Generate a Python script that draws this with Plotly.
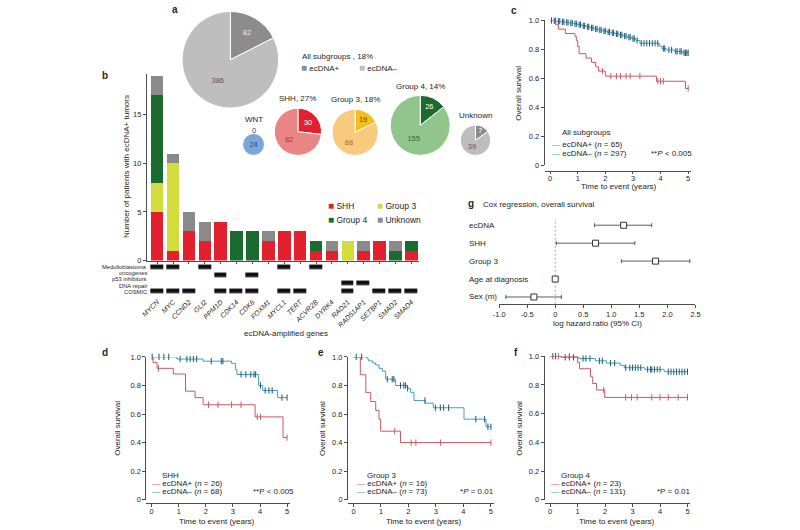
import numpy as np
import plotly.graph_objects as go

W, H = 800, 530
FONT = "Liberation Sans, Arial, Helvetica, sans-serif"
TXT = "#262626"
AXC = "#4d4d4d"


def X(px):
    return px / W


def Y(py):
    return 1 - py / H


# ---------------- data: panel a (pies) ----------------
pie_groups = ["WNT", "SHH", "Group 3", "Group 4", "Unknown"]
pie_titles = ["WNT", "SHH, 27%", "Group 3, 18%", "Group 4, 14%", "Unknown"]
pie_pos = [0, 30, 19, 26, 7]
pie_neg = [24, 82, 88, 155, 39]
all_pos = 82
all_neg = 386
all_title = "All subgroups , 18%"
status_labels = ["ecDNA+", "ecDNA–"]

# ---------------- data: panel b (bars + annotation rows) ----------------
genes = ["MYCN", "MYC", "CCND2", "GLI2", "PPM1D", "CDK14", "CDK6", "FOXM1", "MYCL1",
         "TERT", "ACVR2B", "DYRK4", "RAD21", "RAD51AP1", "SETBP1", "SMAD2", "SMAD4"]
subgroups = ["SHH", "Group 3", "Group 4", "Unknown"]
n_shh = [5, 1, 3, 2, 4, 0, 0, 2, 3, 3, 1, 1, 0, 1, 2, 0, 1]
n_g3 = [3, 9, 0, 0, 0, 0, 0, 0, 0, 0, 0, 0, 2, 0, 0, 0, 0]
n_g4 = [9, 0, 0, 0, 0, 3, 3, 0, 0, 0, 1, 0, 0, 0, 0, 1, 1]
n_unk = [2, 1, 2, 2, 0, 0, 0, 1, 0, 0, 0, 1, 0, 1, 0, 1, 0]

annot_rows = ["Medulloblastoma<br>oncogenes", "p53 inhibitors", "DNA repair", "COSMIC"]
mb_oncogenes = ["MYCN", "MYC", "GLI2", "MYCL1", "ACVR2B"]
p53_inhibitors = ["PPM1D", "CDK6"]
dna_repair = ["RAD21", "RAD51AP1"]
cosmic = ["MYCN", "MYC", "CCND2", "PPM1D", "CDK14", "CDK6", "MYCL1", "TERT",
          "RAD21", "SETBP1", "SMAD2", "SMAD4"]

# ---------------- data: Kaplan-Meier curves ----------------
c_pos_t = [0.2, 0.3, 0.55, 0.9, 0.95, 1.0, 1.05, 1.3, 1.5, 1.65, 1.75, 2.0, 3.85, 4.9]
c_pos_s = [0.97, 0.94, 0.91, 0.89, 0.86, 0.82, 0.77, 0.74, 0.71, 0.68, 0.65, 0.615, 0.58, 0.53]
c_pos_cens = [1.9, 2.2, 2.4, 2.55, 2.75, 2.9, 3.25, 3.9, 4.0, 4.1, 5.0]
c_neg_t = [0.1, 0.25, 0.4, 0.55, 0.7, 0.85, 1.0, 1.15, 1.3, 1.45, 1.6, 1.75, 1.9, 2.05,
           2.2, 2.35, 2.5, 2.65, 2.8, 2.95, 3.1, 3.25, 3.95, 4.05, 4.2, 4.5, 4.8]
c_neg_s = [0.997, 0.994, 0.99, 0.986, 0.982, 0.977, 0.971, 0.963, 0.956, 0.948, 0.941,
           0.934, 0.927, 0.92, 0.914, 0.907, 0.9, 0.892, 0.884, 0.874, 0.862, 0.842,
           0.822, 0.806, 0.796, 0.786, 0.776]
c_neg_cens = [0.05, 0.15, 0.2, 0.3, 0.35, 0.45, 0.5, 0.6, 0.65, 0.75, 0.8, 0.9, 0.95,
              1.05, 1.1, 1.2, 1.25, 1.35, 1.4, 1.5, 1.55, 1.65, 1.7, 1.8, 1.85, 1.95,
              2.0, 2.1, 2.15, 2.25, 2.3, 2.4, 2.45, 2.55, 2.6, 2.7, 2.75, 2.85, 2.9,
              3.0, 3.05, 3.15, 3.3, 3.4, 3.5, 3.6, 3.7, 3.8, 3.9, 4.1, 4.15, 4.3, 4.4,
              4.55, 4.6, 4.7, 4.75, 4.85, 4.9, 4.95, 5.0]

d_pos_t = [0.05, 0.2, 0.8, 1.25, 1.6, 1.9, 3.82, 4.85]
d_pos_s = [0.96, 0.92, 0.88, 0.76, 0.715, 0.665, 0.58, 0.435]
d_pos_cens = [0.25, 2.1, 2.45, 2.95, 3.3, 3.9, 4.02, 5.0]
d_neg_t = [0.93, 1.9, 2.95, 3.1, 3.15, 3.95, 4.1, 4.65]
d_neg_s = [0.985, 0.97, 0.955, 0.91, 0.877, 0.80, 0.765, 0.715]
d_neg_cens = [0.02, 0.27, 0.45, 0.63, 1.05, 1.3, 1.42, 1.54, 1.66, 2.2, 2.57, 2.63,
              3.3, 3.48, 3.66, 3.78, 3.84, 4.02, 4.19, 4.33, 4.45, 4.81, 5.0]

e_pos_t = [0.25, 0.45, 0.63, 0.81, 0.93, 0.99, 1.71]
e_pos_s = [0.875, 0.75, 0.6875, 0.625, 0.5625, 0.48, 0.40]
e_pos_cens = [1.5, 2.1, 2.27, 3.17, 5.0]
e_neg_t = [0.5, 0.55, 0.7, 0.8, 0.93, 1.05, 1.17, 1.53, 1.95, 2.07, 2.2, 2.61, 2.9, 4.02, 4.82]
e_neg_s = [0.986, 0.972, 0.958, 0.944, 0.92, 0.90, 0.844, 0.80, 0.78, 0.752, 0.695,
           0.676, 0.644, 0.564, 0.511]
e_neg_cens = [0.1, 0.3, 1.23, 1.41, 1.47, 1.71, 1.83, 1.89, 1.97, 2.6, 2.98, 3.16,
              3.28, 3.46, 4.45, 4.77, 4.89, 5.0]

f_pos_t = [1.0, 1.07, 1.47, 1.55, 1.69, 1.99]
f_pos_s = [0.957, 0.913, 0.857, 0.81, 0.765, 0.713]
f_pos_cens = [0.3, 0.7, 1.95, 2.75, 2.96, 3.17, 3.7, 4.0, 4.3, 4.66, 5.0]
f_neg_t = [0.4, 1.05, 1.65, 2.05, 2.55, 2.7, 3.45, 4.15]
f_neg_s = [0.992, 0.984, 0.968, 0.952, 0.936, 0.92, 0.908, 0.892]
f_neg_cens = [0.1, 0.2, 0.55, 0.7, 0.85, 1.2, 1.3, 1.45, 1.8, 1.9, 2.2, 2.35, 2.75,
              2.9, 3.0, 3.1, 3.2, 3.3, 3.55, 3.65, 3.7, 3.8, 3.9, 4.0, 4.3, 4.4, 4.5,
              4.6, 4.7, 4.8, 4.9, 5.0]

km_titles = ["All subgroups", "SHH", "Group 3", "Group 4"]
km_n_pos = [65, 26, 16, 23]
km_n_neg = [297, 68, 73, 131]
km_p = ["**<i>P</i> &lt; 0.005", "**P &lt; 0.005", "*<i>P</i> = 0.01", "*P = 0.01"]

# ---------------- data: Cox regression ----------------
cox_terms = ["ecDNA", "SHH", "Group 3", "Age at diagnosis", "Sex (m)"]
cox_est = [1.22, 0.72, 1.79, 0.0, -0.38]
cox_lo = [0.70, 0.02, 1.18, -0.01, -0.88]
cox_hi = [1.72, 1.42, 2.40, 0.01, 0.11]

# ---------------- styles ----------------
POS_COL = ["#7ba7d8", "#e3202e", "#f5bd1f", "#1b6b30", "#8a8a8a"]
NEG_COL = ["#7ba7d8", "#ea8585", "#f9c97e", "#92c58d", "#bdbdbd"]
POS_TXT = ["#2a4d7a", "#ffffff", "#6b4f00", "#ffffff", "#ffffff"]
NEG_TXT = ["#2a4d7a", "#b22a2a", "#a86a14", "#2b6b2f", "#555555"]
ALL_COL = ["#8c8c8c", "#bebebe"]
SUB_COL = ["#e3202e", "#d2dc3c", "#1b6b30", "#8a8a8a"]
RED_KM = "#c85a64"
BLUE_KM = "#3fa1c0"
BLUE_CEN = "#1f5a78"

fig = go.Figure()
annotations = []


def ann(text, px, py, size=8, xanchor="left", yanchor="middle", color=TXT,
        angle=0, xref="paper", yref="paper", xv=None, yv=None):
    annotations.append(dict(
        text=text, x=X(px) if xv is None else xv, y=Y(py) if yv is None else yv,
        xref=xref, yref=yref, xanchor=xanchor, yanchor=yanchor, showarrow=False,
        textangle=angle, borderpad=0, font=dict(family=FONT, size=size, color=color)))


# ---------------- panel a ----------------
K = 2.27  # radius scale (px per sqrt(patient))
big_cx, big_cy = 227.5, 56.7
big_r = K * np.sqrt(all_pos + all_neg)
fig.add_trace(go.Pie(
    values=[all_pos, all_neg], labels=status_labels, sort=False, direction="clockwise",
    rotation=0, marker=dict(colors=ALL_COL, line=dict(color="white", width=1)),
    textinfo="value", textposition="inside", insidetextorientation="horizontal",
    textfont=dict(family=FONT, size=7.5, color=["#e8e8e8", "#555555"]),
    showlegend=False, hoverinfo="skip",
    domain=dict(x=[X(big_cx - big_r), X(big_cx + big_r)], y=[Y(big_cy + big_r), Y(big_cy - big_r)])))

pie_cx = [251, 296, 354, 420, 476]
pie_bottom = 154
for i, g in enumerate(pie_groups):
    r = K * np.sqrt(pie_pos[i] + pie_neg[i])
    cx, cy = pie_cx[i], pie_bottom - r
    tt = ["%{value}" if pie_pos[i] > 0 else "", "%{value}"]
    fig.add_trace(go.Pie(
        values=[pie_pos[i], pie_neg[i]], labels=status_labels, sort=False,
        direction="clockwise", rotation=0,
        marker=dict(colors=[POS_COL[i], NEG_COL[i]], line=dict(color="white", width=1)),
        texttemplate=tt, textposition="inside", insidetextorientation="horizontal",
        textfont=dict(family=FONT, size=7.5, color=[POS_TXT[i], NEG_TXT[i]]),
        showlegend=False, hoverinfo="skip",
        domain=dict(x=[X(cx - r), X(cx + r)], y=[Y(cy + r), Y(cy - r)])))
    if pie_pos[i] == 0:
        ann(str(pie_pos[i]), cx, cy - r - 3, size=7.5, xanchor="center", color=POS_TXT[i])
        ann(pie_titles[i], cx, cy - r - 14, size=8, xanchor="center")
    else:
        ann(pie_titles[i], cx, cy - r - 9.5, size=8, xanchor="center")

ann(all_title, 299, 53, size=8)
for j, (lab, col) in enumerate(zip(status_labels, ALL_COL)):
    ann(f'<span style="color:{col};font-size:10px">■</span> {lab}', 298 + 59 * j, 64.5, size=8)

# ---------------- panel b ----------------
for name, vals, col in zip(subgroups, [n_shh, n_g3, n_g4, n_unk], SUB_COL):
    fig.add_trace(go.Bar(x=genes, y=vals, name=name, marker=dict(color=col, line=dict(width=0)),
                         width=0.79, showlegend=False, hoverinfo="skip",
                         xaxis="x", yaxis="y"))

row_sets = [mb_oncogenes, p53_inhibitors, dna_repair, cosmic]
zmat = [[1 if g in s else None for g in genes] for s in row_sets]
fig.add_trace(go.Heatmap(x=genes, y=list(range(len(annot_rows))), z=zmat,
                         colorscale=[[0, "#111111"], [1, "#111111"]], zmin=0, zmax=1,
                         showscale=False, xgap=3, ygap=3.4, hoverinfo="skip",
                         xaxis="x2", yaxis="y2"))

# row labels (lines placed as in the reference, slightly below their rows)
row_label_lines = [ln for lab in annot_rows for ln in lab.split("<br>")]
row_label_y = [268.0, 273.9, 280.1, 286.5, 293.1]
for ln, yy in zip(row_label_lines, row_label_y):
    ann(ln, 144, yy, size=5.8, xanchor="right")

for j, (name, col) in enumerate(zip(subgroups, SUB_COL)):
    ann(f'<span style="color:{col};font-size:10px">■</span> {name}',
        325.5 + 49.5 * (j % 2), 205 + 14 * (j // 2), size=8.5)

ann("Number of patients with ecDNA+ tumors", 122, 165.5, size=8, xanchor="center", angle=-90)
ann("ecDNA-amplified genes", 284, 335, size=8, xanchor="center")

# ---------------- KM panels ----------------


def s_at(times, surv, t):
    i = int(np.searchsorted(times, t, side="right"))
    return 1.0 if i == 0 else surv[i - 1]


def km_traces(times, surv, cens, line_col, cen_col, ax):
    end = max([times[-1]] + list(cens))
    xs = [0.0] + list(times) + [end]
    ys = [1.0] + list(surv) + [surv[-1]]
    fig.add_trace(go.Scatter(x=xs, y=ys, mode="lines", line=dict(color=line_col, width=1, shape="hv"),
                             cliponaxis=False, hoverinfo="skip", showlegend=False,
                             xaxis="x" + ax, yaxis="y" + ax))
    fig.add_trace(go.Scatter(x=cens, y=[s_at(times, surv, t) for t in cens], mode="markers",
                             marker=dict(symbol="line-ns", size=4.5, line=dict(color=cen_col, width=1)),
                             cliponaxis=False, hoverinfo="skip", showlegend=False,
                             xaxis="x" + ax, yaxis="y" + ax))


km_sets = [
    ("4", c_pos_t, c_pos_s, c_pos_cens, c_neg_t, c_neg_s, c_neg_cens),
    ("6", d_pos_t, d_pos_s, d_pos_cens, d_neg_t, d_neg_s, d_neg_cens),
    ("7", e_pos_t, e_pos_s, e_pos_cens, e_neg_t, e_neg_s, e_neg_cens),
    ("8", f_pos_t, f_pos_s, f_pos_cens, f_neg_t, f_neg_s, f_neg_cens),
]
for ax, pt, ps, pc, nt, ns, nc in km_sets:
    km_traces(nt, ns, nc, BLUE_KM, BLUE_CEN, ax)
    km_traces(pt, ps, pc, RED_KM, RED_KM, ax)

# geometry: x(t=0), x(t=5), y(S=1), y(S=0), x-axis line y, y-title x, legend x, P x,
#           panel letter, letter x, letter y, x-title x, x-title y
km_geo = [
    (551.7, 691.7, 16.7, 164.0, 169.5, 520, 552.5, 697, "c", 515, 7, 621.7, 186.0),
    (147.7, 285.0, 359.0, 504.3, 508.0, 113, 147.5, 293, "d", 100, 355, 214.0, 526.5),
    (352.3, 491.7, 359.0, 504.3, 508.0, 321, 355.0, 496, "e", 319, 355, 424.0, 526.5),
    (551.7, 691.0, 358.3, 504.3, 508.0, 521, 551.7, 696, "f", 517, 355, 620.0, 526.5),
]

layout_axes = {}


def base_axis(**kw):
    d = dict(showgrid=False, zeroline=False, showline=True, linecolor=AXC, linewidth=0.8,
             ticks="outside", ticklen=3, tickwidth=0.8, tickcolor=AXC,
             tickfont=dict(family=FONT, size=7.5, color=TXT))
    d.update(kw)
    return d


for k, (ax, *_r) in enumerate(km_sets):
    x0, x5, y1, y0, xl, ytx, lx, px_, letter, lpx, lpy, xtx, xty = km_geo[k]
    s = (x5 - x0) / 5
    layout_axes["xaxis" + ax] = base_axis(
        domain=[X(x0 - 0.2 * s), X(x0 + 5.1 * s)], range=[-0.2, 5.1], anchor="free",
        position=Y(xl), tickvals=[0, 1, 2, 3, 4, 5], ticklen=2.5, ticklabelstandoff=-2)
    layout_axes["yaxis" + ax] = base_axis(
        domain=[Y(y0), Y(y1)], range=[0, 1], anchor="x" + ax,
        tickvals=[0, 0.2, 0.4, 0.6, 0.8, 1.0], ticktext=["0", "0.2", "0.4", "0.6", "0.8", "1.0"])
    ann("Overall survival", ytx, (y0 + y1) / 2, size=8, xanchor="center", angle=-90)
    ann("Time to event (years)", xtx, xty, size=8, xanchor="center")
    if k == 0:
        ybase, d1, d2, tx = y0 - 33, 12, 21, lx + 10.5
    else:
        ybase, d1, d2, tx = y0 - 25, 8.5, 16.5, lx + 10
    ann(km_titles[k], tx, ybase, size=8)
    ann(f'<span style="color:{RED_KM}">—</span> ecDNA+ (<i>n</i> = {km_n_pos[k]})', lx, ybase + d1, size=8)
    ann(f'<span style="color:{BLUE_KM}">—</span> ecDNA– (<i>n</i> = {km_n_neg[k]})', lx, ybase + d2, size=8)
    ann(km_p[k], px_, ybase + d2, size=8, xanchor="right")
    ann(f"<b>{letter}</b>", lpx, lpy, size=10, xanchor="center")

# ---------------- panel g (forest) ----------------
est = np.array(cox_est)
fig.add_trace(go.Scatter(
    x=cox_est, y=list(range(len(cox_terms))), mode="markers",
    marker=dict(symbol="square", size=6, color="white", line=dict(color="#333333", width=1)),
    error_x=dict(type="data", symmetric=False, array=list(np.array(cox_hi) - est),
                 arrayminus=list(est - np.array(cox_lo)), color="#333333", thickness=0.8, width=2),
    cliponaxis=False, hoverinfo="skip", showlegend=False, xaxis="x5", yaxis="y5"))
layout_axes["xaxis5"] = base_axis(
    domain=[X(500), X(699)], range=[-1.0, 2.5], anchor="y5",
    tickvals=[-1.0, -0.5, 0, 0.5, 1.0, 1.5, 2.0, 2.5],
    ticktext=["-1.0", "-0.5", "0", "0.5", "1.0", "1.5", "2.0", "2.5"])
layout_axes["yaxis5"] = dict(domain=[Y(305), Y(215)], range=[4.38, -0.55], anchor="x5",
                             visible=False)
for i, term in enumerate(cox_terms):
    ann(term, 468, 0, size=8, yref="y5", yv=i)
ann("<b>g</b>", 471, 203, size=10, xanchor="center")
ann("Cox regression, overall survival", 483, 203.5, size=8)
ann("log hazard ratio (95% CI)", 600, 325, size=8, xanchor="center")

shapes = [dict(type="line", xref="x5", yref="paper", x0=0, x1=0, y0=Y(305), y1=Y(219),
               line=dict(color="#9a9a9a", width=0.8, dash="2px,2px"), layer="below")]

# ---------------- bar axes ----------------
layout_axes["xaxis"] = base_axis(domain=[X(142.7), X(419)], range=[-0.66, 16.5], type="category",
                                 categoryorder="array", categoryarray=genes, anchor="y",
                                 showticklabels=False)
layout_axes["yaxis"] = base_axis(domain=[Y(261), Y(71)], range=[0, 19.2], anchor="x",
                                 tickvals=[0, 5, 10, 15])
layout_axes["xaxis2"] = dict(domain=[X(142.7), X(419)], range=[-0.66, 16.5], type="category",
                             categoryorder="array", categoryarray=genes, anchor="y2",
                             showgrid=False, zeroline=False, showline=False, ticks="",
                             tickmode="array", tickvals=genes, ticktext=[f"<i>{g}</i>" for g in genes],
                             tickangle=-45, tickfont=dict(family=FONT, size=7, color=TXT))
layout_axes["yaxis2"] = dict(domain=[Y(296.7), Y(264)], range=[3.5, -0.5], anchor="x2",
                             showgrid=False, zeroline=False, showline=False, ticks="",
                             showticklabels=False)

# ---------------- pie inset frame ----------------
layout_axes["xaxis3"] = base_axis(domain=[X(217.5), X(475)], range=[217.5, 475], anchor="y3",
                                  tickvals=pie_cx, showticklabels=False)
layout_axes["yaxis3"] = base_axis(domain=[Y(163), Y(107)], range=[0, 1], anchor="x3",
                                  ticks="", showticklabels=False)

ann("<b>a</b>", 171, 6, size=10, xanchor="center")
ann("<b>b</b>", 100, 73, size=10, xanchor="center")

fig.update_layout(
    width=W, height=H, autosize=False, margin=dict(l=0, r=0, t=0, b=0, pad=0),
    paper_bgcolor="white", plot_bgcolor="rgba(0,0,0,0)", barmode="stack", bargap=0.21,
    font=dict(family=FONT, size=8, color=TXT), showlegend=False,
    annotations=annotations, shapes=shapes, **layout_axes)

fig.write_html("out.html")
